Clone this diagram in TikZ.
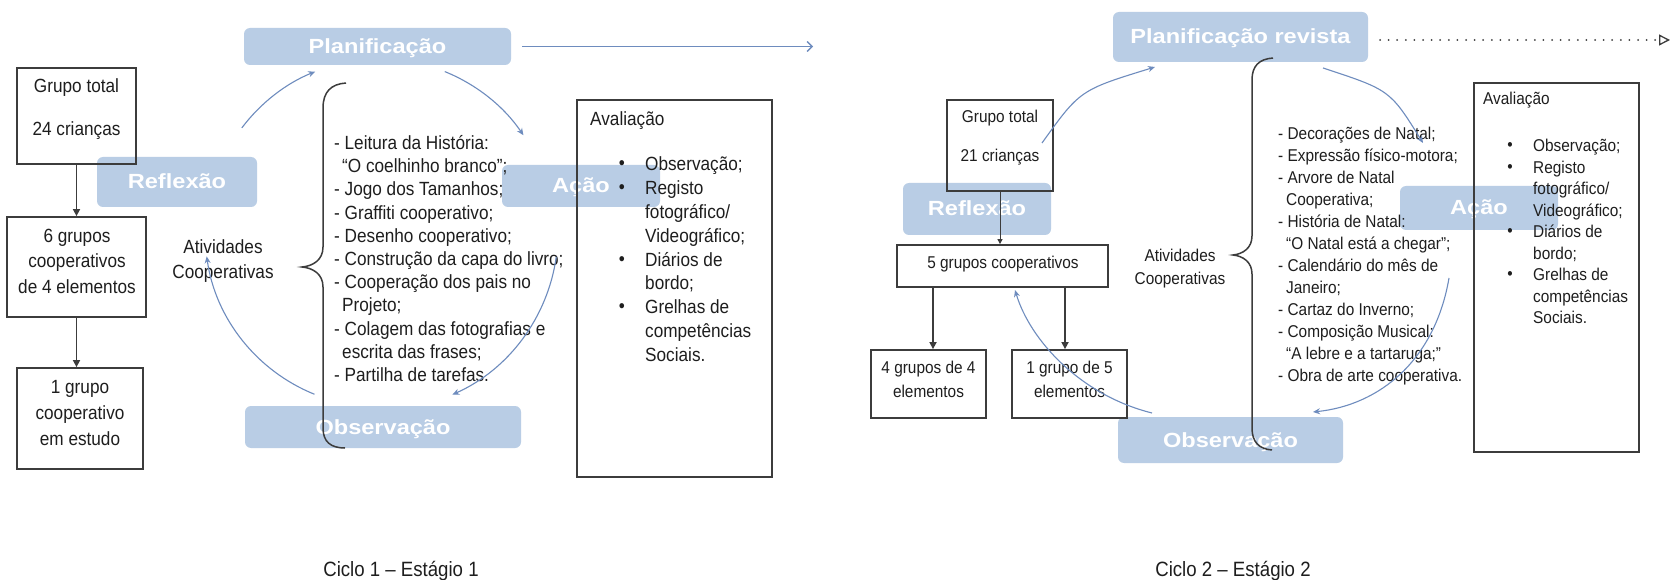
\documentclass[tikz,border=0pt]{standalone}
\usepackage{fontspec}
\setmainfont[FakeStretch=0.9]{Liberation Sans}
\newfontfamily\lblfont[FakeStretch=1.15]{Liberation Sans}
\usetikzlibrary{arrows.meta}
\definecolor{lblue}{RGB}{185,205,229}
\definecolor{cycb}{RGB}{110,140,190}
\definecolor{txt}{RGB}{30,30,30}
\definecolor{bxc}{RGB}{60,60,60}
\begin{document}
\begin{tikzpicture}[x=1pt,y=-1pt,
  lbl/.style={fill=lblue, rounded corners=6pt, text=white, font=\lblfont\bfseries\fontsize{20.5}{24}\selectfont, inner sep=0pt, text height=16pt, text depth=2pt},
  bx/.style={draw=bxc, line width=1.8pt, inner sep=0pt},
  tx/.style={inner sep=0pt, text=txt},
  fL/.style={font=\fontsize{19.1}{#1}\selectfont},
  fR/.style={font=\fontsize{17.1}{#1}\selectfont},
  blk/.style={draw=bxc, line width=1.6pt, -{Triangle[length=7pt,width=7pt]}},
  blkthin/.style={draw=bxc, line width=1pt, -{Triangle[length=5pt,width=5pt]}},
  cyc/.style={draw=cycb, line width=1.1pt, -{Stealth[length=7pt,width=6pt]}},
  brc/.style={draw=bxc, line width=1.5pt}
]
\path[use as bounding box, fill=white] (0,0) rectangle (1679,580);

% ---- blue labels
\node[lbl, minimum width=267pt, minimum height=37pt] (planL) at (377.5,46.5) {Planificação};
\node[lbl, minimum width=160pt, minimum height=50pt] (reflL) at (177,182) {Reflexão};
\node[lbl, minimum width=158pt, minimum height=42pt] (acaoL) at (581,186) {Ação};
\node[lbl, minimum width=276pt, minimum height=42pt] (obsL) at (383,427) {Observação};
\node[lbl, minimum width=255pt, minimum height=50pt] (planR) at (1240.5,37) {Planificação revista};
\node[lbl, minimum width=148pt, minimum height=52pt] (reflR) at (977,209) {Reflexão};
\node[lbl, minimum width=158pt, minimum height=44pt] (acaoR) at (1479,208) {Ação};
\node[lbl, minimum width=225pt, minimum height=46pt] (obsR) at (1230.5,440) {Observação};

% ---- boxes
\node[bx, minimum width=119pt, minimum height=96pt] (gtL) at (76.5,116) {};
\node[bx, minimum width=139pt, minimum height=100pt] (g6) at (76.5,267) {};
\node[bx, minimum width=126pt, minimum height=101pt] (g1) at (80,418.5) {};
\node[bx, minimum width=195pt, minimum height=377pt] (avL) at (674.5,288.5) {};
\node[bx, minimum width=106pt, minimum height=91pt] (gtR) at (1000,145.5) {};
\node[bx, minimum width=211pt, minimum height=42pt] (g5) at (1002.5,266) {};
\node[bx, minimum width=115pt, minimum height=68pt] (g44) at (928.5,384) {};
\node[bx, minimum width=115pt, minimum height=68pt] (g15) at (1069.5,384) {};
\node[bx, minimum width=165pt, minimum height=369pt] (avR) at (1556.5,267.5) {};

% ---- texts left
\node[tx, fL=43, anchor=north, align=center] (tgtL) at (76.5,77.2) {\rule{0pt}{15pt}Grupo total\\24 crianças};
\node[tx, fL=25.5, anchor=north, align=center] (t6g) at (77,227.2) {\rule{0pt}{15pt}6 grupos\\cooperativos\\de 4 elementos};
\node[tx, fL=26, anchor=north, align=center] (t1g) at (80,378.2) {\rule{0pt}{15pt}1 grupo\\cooperativo\\em estudo};
\node[tx, fL=25, anchor=north, align=center] (atL) at (223,238.2) {\rule{0pt}{15pt}Atividades\\Cooperativas};
\node[tx, fL=23.2, anchor=north west, align=left] (listL) at (334,134.2) {\rule{0pt}{15pt}- Leitura da História:\\\hspace*{8pt}“O coelhinho branco”;\\- Jogo dos Tamanhos;\\- Graffiti cooperativo;\\- Desenho cooperativo;\\- Construção da capa do livro;\\- Cooperação dos pais no\\\hspace*{8pt}Projeto;\\- Colagem das fotografias e\\\hspace*{8pt}escrita das frases;\\- Partilha de tarefas.};
\node[tx, fL=20, anchor=base west] (avtL) at (590,125.2) {Avaliação};
\node[tx, fL=23.9, anchor=north west, align=left] (itL) at (645,155.2) {\rule{0pt}{15pt}Observação;\\Registo\\fotográfico/\\Videográfico;\\Diários de\\bordo;\\Grelhas de\\competências\\Sociais.};
\node[tx, fL=20] (bL1) at (622,165) {•};
\node[tx, fL=20] (bL2) at (622,188.9) {•};
\node[tx, fL=20] (bL3) at (622,260.6) {•};
\node[tx, fL=20] (bL4) at (622,308.4) {•};

% ---- texts right
\node[tx, fR=39, anchor=north, align=center] (tgtR) at (1000,109.2) {\rule{0pt}{13.5pt}Grupo total\\21 crianças};
\node[tx, fR=18, anchor=base] (t5g) at (1003,268.7) {5 grupos cooperativos};
\node[tx, fR=24, anchor=north, align=center] (t44) at (928.5,360.2) {\rule{0pt}{13.5pt}4 grupos de 4\\elementos};
\node[tx, fR=24, anchor=north, align=center] (t15) at (1069.5,360.2) {\rule{0pt}{13.5pt}1 grupo de 5\\elementos};
\node[tx, fR=23, anchor=north, align=center] (atR) at (1180,248.2) {\rule{0pt}{13.5pt}Atividades\\Cooperativas};
\node[tx, fR=22, anchor=north west, align=left] (listR) at (1278,126.2) {\rule{0pt}{13.5pt}- Decorações de Natal;\\- Expressão físico-motora;\\- Arvore de Natal\\\hspace*{8pt}Cooperativa;\\- História de Natal:\\\hspace*{8pt}“O Natal está a chegar”;\\- Calendário do mês de\\\hspace*{8pt}Janeiro;\\- Cartaz do Inverno;\\- Composição Musical:\\\hspace*{8pt}“A lebre e a tartaruga;”\\- Obra de arte cooperativa.};
\node[tx, fR=20, anchor=base west] (avtR) at (1483,104.7) {Avaliação};
\node[tx, fR=21.5, anchor=north west, align=left] (itR) at (1533,138.2) {\rule{0pt}{13.5pt}Observação;\\Registo\\fotográfico/\\Videográfico;\\Diários de\\bordo;\\Grelhas de\\competências\\Sociais.};
\node[tx, fR=20] (bR1) at (1510,147) {•};
\node[tx, fR=20] (bR2) at (1510,168.5) {•};
\node[tx, fR=20] (bR3) at (1510,233) {•};
\node[tx, fR=20] (bR4) at (1510,276) {•};

% ---- captions
\node[tx, font=\fontsize{20.7}{24}\selectfont, anchor=base] (cap1) at (401,576) {Ciclo 1 – Estágio 1};
\node[tx, font=\fontsize{20.7}{24}\selectfont, anchor=base] (cap2) at (1233,576) {Ciclo 2 – Estágio 2};

% ---- braces
\draw[brc] (346,83) .. controls (331,84) and (323,92) .. (323,108) -- (323,247) .. controls (323,260) and (313,266) .. (302,267) .. controls (313,268) and (323,274) .. (323,287) -- (323,428) .. controls (323,442) and (331,448) .. (345,448);
\draw[brc] (1273,58) .. controls (1259,59) and (1252,66) .. (1252,80) -- (1252,236) .. controls (1252,248) and (1243,254) .. (1233,255) .. controls (1243,256) and (1252,262) .. (1252,274) -- (1252,428) .. controls (1252,442) and (1259,449) .. (1272,450);

% ---- black connectors
\draw[blk] (gtL.south) -- (g6.north);
\draw[blk] (g6.south) -- (g6.south |- g1.north);
\draw[blkthin] (gtR.south) -- (gtR.south |- g5.north);
\coordinate (g44in) at ([xshift=4.5pt]g44.north);
\coordinate (g15in) at ([xshift=-4.5pt]g15.north);
\draw[blk] (g5.south -| g44in) -- (g44in);
\draw[blk] (g5.south -| g15in) -- (g15in);

% ---- top arrows
\coordinate (endL) at (813,46.5);
\draw[draw=cycb, line width=1.3pt, -{Straight Barb[length=5pt,width=10pt]}] ([xshift=11pt]planL.east) -- (endL);
\coordinate (endR) at (1670,40);
\draw[draw=bxc, line width=2pt, line cap=round, dash pattern=on 0pt off 8.6pt, -{Triangle[open,length=11pt,width=11pt,line width=1.3pt]}] (1380,40) -- (endR);

% ---- left cycle
\coordinate (cL) at (380,232);
\draw[cyc] ([shift={(-143:173)}]cL) arc[start angle=-143, end angle=-112, radius=173];
\draw[cyc] ([shift={(-68:173)}]cL) arc[start angle=-68, end angle=-34, radius=173];
\draw[cyc] ([shift={(8:178)}]cL) arc[start angle=8, end angle=66, radius=178];
\draw[cyc] ([shift={(112:175)}]cL) arc[start angle=112, end angle=172, radius=175];

% ---- right cycle
\coordinate (a0) at (1042,143); \coordinate (a1) at (1155,67);
\coordinate (b0) at (1323,68); \coordinate (b1) at (1423,143);
\coordinate (c0) at (1449,278); \coordinate (c1) at (1313,412);
\coordinate (d0) at (1152,413); \coordinate (d1) at (1015,290);
\draw[cyc] (a0) .. controls (1080,90) .. (a1);
\draw[cyc] (b0) .. controls (1390,90) .. (b1);
\draw[cyc] (c0) .. controls (1435,360) and (1380,405) .. (c1);
\draw[cyc] (d0) .. controls (1080,395) and (1030,340) .. (d1);
\end{tikzpicture}
\end{document}
